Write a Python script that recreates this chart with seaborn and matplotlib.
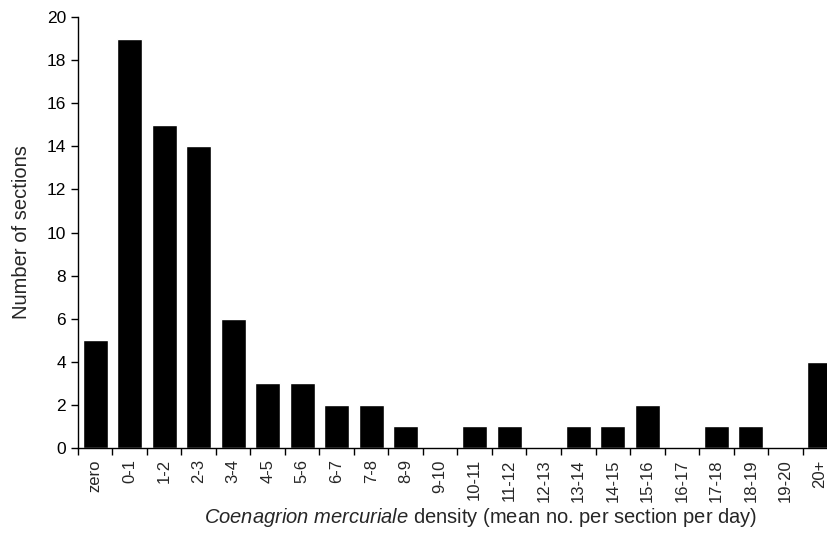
import seaborn as sns
import matplotlib.pyplot as plt
from matplotlib.ticker import FixedLocator

categories = ["zero", "0-1", "1-2", "2-3", "3-4", "4-5", "5-6", "6-7", "7-8", "8-9",
              "9-10", "10-11", "11-12", "12-13", "13-14", "14-15", "15-16", "16-17",
              "17-18", "18-19", "19-20", "20+"]
sections = [5, 19, 15, 14, 6, 3, 3, 2, 2, 1, 0, 1, 1, 0, 1, 1, 2, 0, 1, 1, 0, 4]

sns.set_style("ticks")
plt.rcParams["font.family"] = ["Liberation Sans", "DejaVu Sans"]
plt.rcParams["mathtext.fontset"] = "custom"
plt.rcParams["mathtext.it"] = "Liberation Sans:italic"
plt.rcParams["mathtext.rm"] = "Liberation Sans"

fig = plt.figure(figsize=(8.28, 5.42), dpi=100)
ax = fig.add_axes([0.094, 0.1734, 0.917, 0.7952])

sns.barplot(x=categories, y=sections, color="black", width=0.72, saturation=1, ax=ax)

ax.set_xlim(-0.5, len(categories) - 0.5)
ax.set_ylim(0, 20)
ax.set_yticks(range(0, 21, 2))
ax.tick_params(axis="y", labelsize=12.5, length=5, width=1, direction="out", colors="black")
ax.tick_params(axis="x", which="major", length=0, labelsize=12, labelrotation=90, pad=8)
ax.xaxis.set_minor_locator(FixedLocator([i - 0.5 for i in range(len(categories) + 1)]))
ax.tick_params(axis="x", which="minor", length=5, width=1, direction="out", color="black")

for side in ["top", "right"]:
    ax.spines[side].set_visible(False)
for side in ["left", "bottom"]:
    ax.spines[side].set_color("black")
    ax.spines[side].set_linewidth(1)

ax.set_ylabel("Number of sections", fontsize=14.5)
ax.yaxis.set_label_coords(-0.062, 0.5)
ax.set_xlabel(r"$\mathit{Coenagrion\ mercuriale}$ density (mean no. per section per day)",
              fontsize=14.5)
ax.xaxis.set_label_coords(0.531, -0.135)

fig.savefig("out.png", dpi=100)
